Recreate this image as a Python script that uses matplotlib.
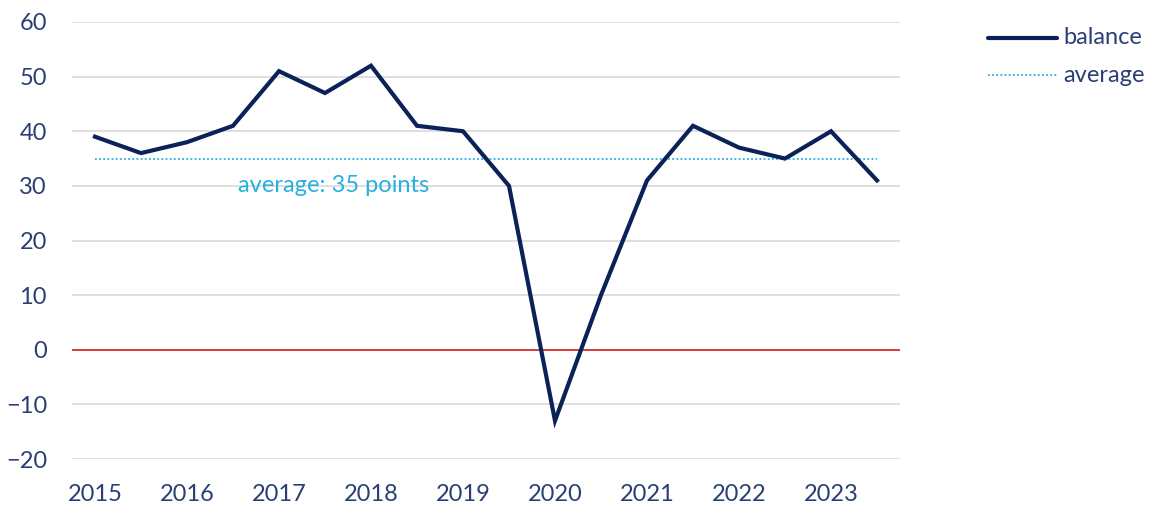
import matplotlib
matplotlib.use("Agg")
import matplotlib.pyplot as plt
from matplotlib.lines import Line2D

periods = ["2015", "", "2016", "", "2017", "", "2018", "", "2019", "",
           "2020", "", "2021", "", "2022", "", "2023", ""]
balance = [39, 36, 38, 41, 51, 47, 52, 41, 40, 30, -13, 10, 31, 41, 37, 35, 40, 31]
average_value = 35
yticks = [-20, -10, 0, 10, 20, 30, 40, 50, 60]

navy = "#0b2259"
light_blue = "#27aee3"
text_col = "#2a3f73"

plt.rcParams['font.family'] = ['Lato', 'DejaVu Sans']

fig = plt.figure(figsize=(11.54, 5.07), dpi=100)
ax = fig.add_axes([72/1154, 1 - 459/507, 828/1154, 437/507])

x = list(range(len(balance)))
ax.set_xlim(-0.5, len(balance) - 0.5)
ax.set_ylim(-20, 60)
ax.set_yticks(yticks)
for t in yticks:
    if t != 0:
        ax.axhline(t, color="#d9d9d9", lw=1.2, zorder=1)
ax.axhline(0, color="#d83a3a", lw=1.4, zorder=2)

ax.plot(x, [average_value] * len(x), color=light_blue, lw=1.3, ls=(0, (1, 1.3)), zorder=3)
ax.plot(x, balance, color=navy, lw=3, zorder=4, solid_joinstyle="miter")

ax.text(3.1, 30.0, f"average: {average_value} points", color=light_blue,
        fontsize=17, va="center", ha="left")

ax.set_xticks(x)
ax.set_xticklabels(periods)
ax.tick_params(axis="both", length=0, labelsize=17, colors=text_col, labelcolor=text_col)
ax.tick_params(axis="x", pad=18)
ax.tick_params(axis="y", pad=18)
for s in ax.spines.values():
    s.set_visible(False)

# legend
fig.lines.append(Line2D([988/1154, 1057/1154], [1 - 38/507] * 2, color=navy, lw=3,
                        transform=fig.transFigure, solid_capstyle="round"))
fig.lines.append(Line2D([988/1154, 1057/1154], [1 - 75/507] * 2, color=light_blue, lw=1.3,
                        ls=(0, (1, 1.3)), transform=fig.transFigure))
fig.text(1063/1154, 1 - 38/507, "balance", color=text_col, fontsize=17,
         va="center", ha="left")
fig.text(1063/1154, 1 - 75/507, "average", color=text_col, fontsize=17,
         va="center", ha="left")

fig.savefig("out.png", dpi=100)
